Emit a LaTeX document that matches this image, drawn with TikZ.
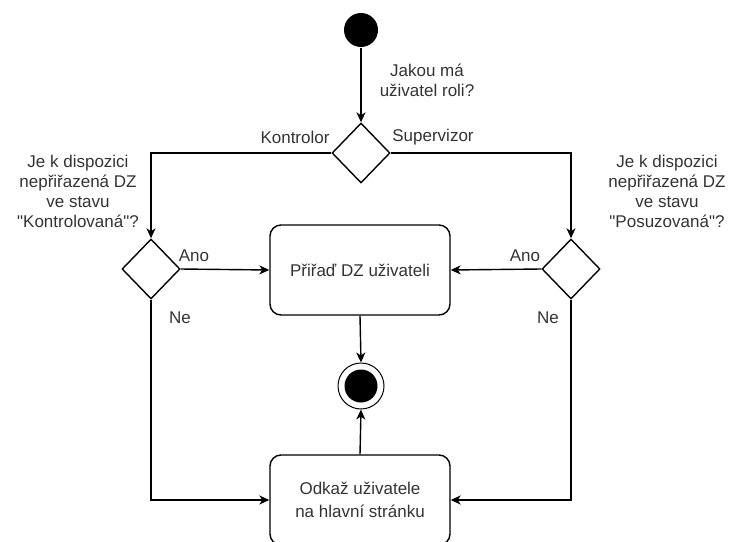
\documentclass[tikz,border=0pt]{standalone}
\usepackage{fontspec}
\setmainfont{Liberation Sans}[Ligatures=TeXOff]
\usetikzlibrary{shapes.geometric,arrows.meta}
\begin{document}
\begin{tikzpicture}[x=1pt,y=-1pt,
  line width=1.4pt,
  every node/.style={inner sep=0pt},
  lbl/.style={text=black!80,font=\fontsize{17}{20}\selectfont,align=center},
  decision/.style={draw,shape=diamond,minimum width=58pt,minimum height=60pt},
  action/.style={draw,rounded corners=11pt,minimum width=180pt,minimum height=90pt,
                 text=black!80,font=\fontsize{17}{23}\selectfont,align=center},
  flow/.style={-{Stealth[length=10pt,width=9pt,inset=3pt]}}
]
\useasboundingbox (0,0) rectangle (733,541);

% initial and final states
\node[circle,fill=black,minimum size=34pt] (start) at (361,30) {};
\node[circle,draw,line width=1pt,minimum size=46pt] (end) at (361,386) {};
\fill (end.center) circle (16.5);

% decisions
\node[decision] (role) at (361,153) {};
\node[decision] (qk) at (151,269) {};
\node[decision] (qs) at (571,269) {};

% actions
\node[action] (assign) at (360,270) {Přiřaď DZ uživateli};
\node[action] (redirect) at (360,500) {Odkaž uživatele\\na hlavní stránku};

% connectors
\draw[flow] (start) -- (role.north);
\draw[flow] (role.west) -| (qk.north);
\draw[flow] (role.east) -| (qs.north);
\draw[flow] (qk.east) -- (assign.west);
\draw[flow] (qs.west) -- (assign.east);
\draw[flow] (assign.south) -- (end.north);
\draw[flow] (redirect.north) -- (end.south);
\draw[flow] (qk.south) |- (redirect.west);
\draw[flow] (qs.south) |- (redirect.east);

% labels
\node[lbl] (lrole) at (427,80) {Jakou má\\uživatel roli?};
\node[lbl] (lkon) at (295,137) {Kontrolor};
\node[lbl] (lsup) at (433,137) {Supervizor};
\node[lbl] (lqk) at (78,191) {Je k dispozici\\nepřiřazená DZ\\ve stavu\\"Kontrolovaná"?};
\node[lbl] (lqs) at (667,191) {Je k dispozici\\nepřiřazená DZ\\ve stavu\\"Posuzovaná"?};
\node[lbl] (lkano) at (194,256) {Ano};
\node[lbl] (lkne) at (180,318) {Ne};
\node[lbl] (lsano) at (525,256) {Ano};
\node[lbl] (lsne) at (548,318) {Ne};
\end{tikzpicture}
\end{document}
